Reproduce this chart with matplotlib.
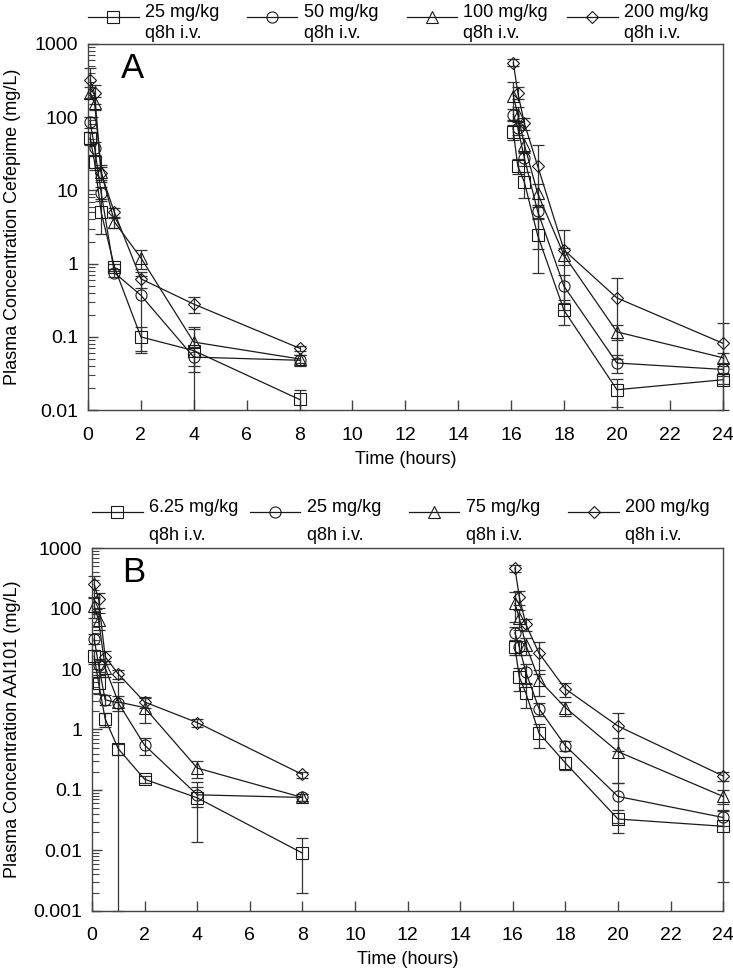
import numpy as np
import matplotlib
matplotlib.use("Agg")
import matplotlib.pyplot as plt
from matplotlib.legend import Legend
from matplotlib.ticker import LogLocator, FuncFormatter, MultipleLocator

plt.rcParams['font.family'] = ['Liberation Sans', 'DejaVu Sans']

# sampling times (hours), first and second dose
t_first = [0.083, 0.25, 0.5, 1, 2, 4, 8]
t_second = [16.083, 16.25, 16.5, 17, 18, 20, 24]

# Panel A - cefepime (mg/L)
a_labels = ["25 mg/kg\nq8h i.v.", "50 mg/kg\nq8h i.v.", "100 mg/kg\nq8h i.v.", "200 mg/kg\nq8h i.v."]
a_first = [
    [52, 24, 5.0, 0.9, 0.10, 0.065, 0.014],
    [86, 38, 9.2, 0.75, 0.37, 0.053, 0.048],
    [215, 155, 18, 3.7, 1.2, 0.085, 0.050],
    [320, 210, 17, 5.0, 0.62, 0.28, 0.070],
]
a_first_sd = [
    [10, 5, 2.5, 0.1, 0.035, 0.07, 0.005],
    [15, 8, 2, 0.1, 0.31, 0.02, 0.008],
    [40, 30, 4, 0.6, 0.35, 0.045, 0.006],
    [140, 60, 4, 0.8, 0.15, 0.07, 0.005],
]
a_second = [
    [63, 21.5, 12.9, 2.45, 0.23, 0.019, 0.026],
    [108, 71, 27.5, 5.2, 0.49, 0.044, 0.036],
    [195, 108, 42, 9.1, 1.3, 0.117, 0.052],
    [550, 215, 82, 21.6, 1.53, 0.34, 0.082],
]
a_second_sd = [
    [15, 5, 5, 1.7, 0.085, 0.008, 0.003],
    [20, 15, 6, 1.1, 0.2, 0.012, 0.004],
    [105, 30, 10, 3.2, 0.35, 0.027, 0.008],
    [60, 40, 15, 20, 1.3, 0.29, 0.075],
]

# Panel B - AAI101 (mg/L)
b_labels = ["6.25 mg/kg\nq8h i.v.", "25 mg/kg\nq8h i.v.", "75 mg/kg\nq8h i.v.", "200 mg/kg\nq8h i.v."]
b_first = [
    [16.3, 5.9, 1.5, 0.48, 0.15, 0.074, 0.009],
    [31.6, 11.8, 3.1, 2.75, 0.55, 0.083, 0.075],
    [110, 65, 10.5, 2.85, 2.3, 0.23, 0.075],
    [253, 144, 16, 8.3, 2.85, 1.3, 0.18],
]
b_first_sd = [
    [4, 2, 0.4, 0.1, 0.02, 0.06, 0.007],
    [6, 3, 0.6, 3.4, 0.17, 0.03, 0.01],
    [40, 20, 3, 0.8, 1.0, 0.07, 0.01],
    [100, 40, 4, 1.5, 0.6, 0.2, 0.02],
]
b_second = [
    [23, 7.4, 4.0, 0.87, 0.28, 0.033, 0.025],
    [40, 23, 8.9, 2.2, 0.54, 0.078, 0.035],
    [123, 69, 25, 6.6, 2.3, 0.43, 0.078],
    [468, 155, 55, 18.3, 4.7, 1.14, 0.17],
]
b_second_sd = [
    [6, 3, 1.7, 0.38, 0.07, 0.014, 0.022],
    [10, 6, 3, 0.5, 0.1, 0.05, 0.01],
    [64, 25, 8, 3, 0.6, 0.3, 0.02],
    [60, 40, 12, 10, 1.2, 0.7, 0.03],
]

markers = ['s', 'o', '^', 'D']
msizes = [8, 8, 8.5, 6.5]
line_col = '#1a1a1a'
bar_col = '#333333'
legend_x = [0.0, 0.25, 0.502, 0.755]


def draw_panel(ax, first, first_sd, second, second_sd, labels, letter, ylabel,
               ymin, ylab_x, letter_x, line_pitch, handle_shift, leg_y):
    handles = []
    for i in range(4):
        for t, v, sd in ((t_first, first[i], first_sd[i]), (t_second, second[i], second_sd[i])):
            v = np.array(v, dtype=float)
            sd = np.array(sd, dtype=float)
            lower = np.where(v - sd > ymin, sd, v - ymin)
            ax.errorbar(t, v, yerr=[lower, sd], fmt='none', ecolor=bar_col,
                        elinewidth=0.9, capsize=4, capthick=0.9, zorder=2,
                        clip_on=False)
            ln, = ax.plot(t, v, color=line_col, lw=0.9, marker=markers[i],
                          ms=msizes[i], mfc='none', mec=line_col, mew=0.8,
                          zorder=3, clip_on=False)
        handles.append(ln)
    ax.set_yscale('log')
    ax.set_ylim(ymin, 1000)
    ax.set_xlim(0, 24)
    ax.xaxis.set_major_locator(MultipleLocator(2))
    ax.yaxis.set_major_locator(LogLocator(base=10))
    ax.yaxis.set_minor_locator(LogLocator(base=10, subs=np.arange(2, 10)))
    ax.yaxis.set_major_formatter(FuncFormatter(lambda v, p: '%g' % v))
    ax.tick_params(axis='both', direction='in', labelsize=14, color='#444444',
                   length=7, width=1)
    ax.tick_params(axis='x', pad=12)
    ax.tick_params(axis='y', pad=7)
    ax.tick_params(axis='y', which='minor', direction='in', length=5, width=0.8,
                   color='#444444')
    for s in ax.spines.values():
        s.set_color('#444444')
        s.set_linewidth(1.0)
    ax.set_xlabel('Time (hours)', fontsize=13, labelpad=5)
    ax.set_ylabel(ylabel, fontsize=13)
    ax.yaxis.set_label_coords(ylab_x, 0.5)
    ax.text(letter_x, 0.978, letter, transform=ax.transAxes, fontsize=25,
            va='top', ha='left')

    # one legend entry per column, placed at fixed positions above the axes
    for i in range(4):
        leg = Legend(ax, [handles[i]], [labels[i]], loc='lower left',
                     bbox_to_anchor=(legend_x[i], leg_y), frameon=False,
                     fontsize=13, handlelength=2.8, handletextpad=0.35,
                     borderpad=0, borderaxespad=0)
        for txt in leg.get_texts():
            txt.set_linespacing(line_pitch)
            txt.set_multialignment('left')
        for hl in leg.get_lines():
            hl.set_ydata(np.asarray(hl.get_ydata()) + handle_shift)
        ax.add_artist(leg)


fig = plt.figure(figsize=(7.33, 9.72), dpi=100)
ax_a = fig.add_axes([0.120, 0.578, 0.866, 0.377])
ax_b = fig.add_axes([0.1255, 0.063, 0.861, 0.373])

draw_panel(ax_a, a_first, a_first_sd, a_second, a_second_sd, a_labels, 'A',
           'Plasma Concentration Cefepime (mg/L)', 0.01, -0.1055, 0.052, 1.36,
           4.5, 1.004)
draw_panel(ax_b, b_first, b_first_sd, b_second, b_second_sd, b_labels, 'B',
           'Plasma Concentration AAI101 (mg/L)', 0.001, -0.1125, 0.048, 1.83,
           7.5, 1.011)

fig.savefig('out.png', dpi=100)
